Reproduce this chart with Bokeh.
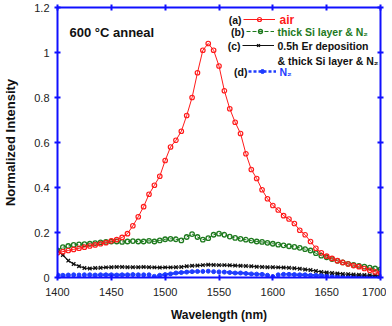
from bokeh.plotting import figure
from bokeh.models import (ColumnDataSource, Range1d, LinearAxis, FixedTicker,
                          CustomJSTickFormatter, Legend, LegendItem, Label)
from bokeh.core.properties import value
from bokeh.embed import file_html
from bokeh.resources import INLINE

wavelength = list(range(1400, 1701, 5))

air = [0.11, 0.115, 0.12, 0.125, 0.13, 0.135, 0.14, 0.145, 0.15, 0.155,
       0.163, 0.168, 0.178, 0.195, 0.23, 0.27, 0.315, 0.37, 0.41, 0.45,
       0.52, 0.58, 0.61, 0.65, 0.72, 0.80, 0.91, 1.01, 1.04, 1.01,
       0.94, 0.83, 0.75, 0.69, 0.64, 0.55, 0.48, 0.44, 0.39, 0.35,
       0.32, 0.30, 0.275, 0.26, 0.24, 0.21, 0.19, 0.16, 0.13, 0.11,
       0.095, 0.085, 0.075, 0.067, 0.06, 0.053, 0.048, 0.04, 0.032, 0.025,
       0.02]

thick_si_n2 = [0.12, 0.135, 0.14, 0.145, 0.147, 0.148, 0.15, 0.153, 0.156, 0.158,
               0.16, 0.16, 0.158, 0.16, 0.162, 0.16, 0.16, 0.163, 0.16, 0.165,
               0.17, 0.172, 0.17, 0.165, 0.18, 0.193, 0.18, 0.168, 0.175, 0.19,
               0.195, 0.19, 0.182, 0.176, 0.172, 0.168, 0.164, 0.16, 0.158, 0.154,
               0.15, 0.146, 0.143, 0.139, 0.136, 0.132, 0.126, 0.12, 0.108, 0.097,
               0.09, 0.082, 0.074, 0.067, 0.061, 0.056, 0.052, 0.048, 0.044, 0.04,
               0.036]

er_thick_si_n2 = [0.12, 0.1, 0.075, 0.06, 0.05, 0.042, 0.04, 0.042, 0.043, 0.045,
                  0.046, 0.047, 0.047, 0.046, 0.046, 0.046, 0.047, 0.046, 0.045, 0.044,
                  0.045, 0.045, 0.046, 0.047, 0.05, 0.052, 0.053, 0.055, 0.057, 0.056,
                  0.055, 0.055, 0.054, 0.053, 0.052, 0.051, 0.05, 0.048, 0.047, 0.046,
                  0.046, 0.045, 0.044, 0.043, 0.041, 0.039, 0.036, 0.033, 0.029, 0.025,
                  0.022, 0.02, 0.018, 0.016, 0.015, 0.013, 0.012, 0.011, 0.01, 0.01,
                  0.01]

n2 = [0.012, 0.01, 0.011, 0.012, 0.011, 0.012, 0.012, 0.011, 0.012, 0.012,
      0.012, 0.011, 0.012, 0.012, 0.013, 0.012, 0.012, 0.012, 0.005, 0.01,
      0.013, 0.016, 0.02, 0.022, 0.024, 0.026, 0.027, 0.027, 0.028, 0.026,
      0.025, 0.024, 0.022, 0.02, 0.02, 0.018, 0.016, 0.015, 0.014, 0.01,
      0.004, 0.012, 0.014, 0.014, 0.013, 0.012, 0.012, 0.01, 0.01, 0.009,
      0.008, 0.007, 0.007, 0.006, 0.006, 0.005, 0.005, 0.005, 0.005, 0.004,
      0.004]

x_tick_values = [1400, 1450, 1500, 1550, 1600, 1650, 1700]
y_tick_values = [0, 0.2, 0.4, 0.6, 0.8, 1.0, 1.2]

src = ColumnDataSource(dict(wl=wavelength, air=air, thick=thick_si_n2, er=er_thick_si_n2, n2=n2))

FONT = "Liberation Sans"
AX = "#1010ff"
RED = "#ff1a1a"
GREEN = "#1e7a1e"
BLACK = "#111111"
BLUE = "#1f3cff"

p = figure(width=386, height=324, x_range=Range1d(1400, 1700), y_range=Range1d(0, 1.2),
           output_backend="svg", toolbar_location=None,
           min_border_left=55, min_border_right=6, min_border_top=7, min_border_bottom=46)
p.outline_line_color = None
p.grid.visible = False
p.background_fill_color = "white"

yfmt = CustomJSTickFormatter(code="return (Math.round(tick*10)/10).toString();")
blank = CustomJSTickFormatter(code="return '';")

def style_axis(ax):
    ax.axis_line_color = AX
    ax.axis_line_width = 2
    ax.major_tick_line_color = AX
    ax.major_tick_line_width = 2
    ax.major_tick_in = 3
    ax.major_tick_out = 3
    ax.minor_tick_line_color = None
    ax.major_label_text_font = FONT
    ax.major_label_text_font_size = "11px"
    ax.major_label_text_color = "#222222"

xa = p.xaxis[0]
xa.ticker = FixedTicker(ticks=x_tick_values)
style_axis(xa)
xa.major_label_standoff = 7
xa.axis_label = "Wavelength (nm)"
xa.axis_label_text_font = FONT
xa.axis_label_text_font_style = "bold"
xa.axis_label_text_font_size = "12px"
xa.axis_label_text_color = "#111111"
xa.axis_label_standoff = 9

ya = p.yaxis[0]
ya.ticker = FixedTicker(ticks=y_tick_values)
ya.formatter = yfmt
style_axis(ya)
ya.major_label_standoff = 5
ya.axis_label = "Normalized Intensity"
ya.axis_label_text_font = FONT
ya.axis_label_text_font_style = "bold"
ya.axis_label_text_font_size = "13px"
ya.axis_label_text_color = "#111111"
ya.axis_label_standoff = 13

top = LinearAxis(ticker=FixedTicker(ticks=x_tick_values), formatter=blank)
style_axis(top)
top.major_label_standoff = 0
p.add_layout(top, "above")
right = LinearAxis(ticker=FixedTicker(ticks=y_tick_values), formatter=blank)
style_axis(right)
right.major_label_standoff = 0
p.add_layout(right, "right")

# series
l_d = p.line("wl", "n2", source=src, color=BLUE, line_width=2.5, line_dash="3 2")
s_d = p.scatter("wl", "n2", source=src, marker="circle", size=4, color=BLUE)
l_c = p.line("wl", "er", source=src, color=BLACK, line_width=1.2)
s_c = p.scatter("wl", "er", source=src, marker="x", size=5, line_color=BLACK, line_width=1.3)
l_b = p.line("wl", "thick", source=src, color=GREEN, line_width=1, line_dash="4 2")
s_b = p.scatter("wl", "thick", source=src, marker="circle", size=4.5, line_color=GREEN,
                fill_color="white", fill_alpha=0, line_width=1.3)
l_a = p.line("wl", "air", source=src, color=RED, line_width=1)
s_a = p.scatter("wl", "air", source=src, marker="circle", size=4.5, line_color=RED,
                fill_color="white", fill_alpha=0, line_width=1.2)

def key(rs, loc, w):
    leg = Legend(items=[LegendItem(label=value(""), renderers=rs)], location=loc,
                 glyph_width=w, glyph_height=10, label_height=10, label_width=0,
                 label_standoff=0, padding=0, margin=0, spacing=0,
                 border_line_color=None, background_fill_alpha=0,
                 label_text_font_size="10px")
    p.add_layout(leg)

key([l_a, s_a], (186, 253), 32)
key([l_b, s_b], (189, 241), 28)
key([l_c, s_c], (185, 227), 32)
key([l_d, s_d], (191, 201), 28)

def lab(x, y, t, color="#111111", size="10.5px", align="left"):
    p.add_layout(Label(x=x, y=y, x_units="screen", y_units="screen", text=t,
                       text_font=FONT, text_font_style="bold", text_font_size=size,
                       text_color=color, text_align=align, text_baseline="middle"))

lab(184, 258, "(a)", align="right")
lab(222, 258, "air", RED, "12px")
lab(187, 246, "(b)", align="right")
lab(220, 246, "thick Si layer & N\u2082", GREEN)
lab(183, 232, "(c)", align="right")
lab(220, 232, "0.5h Er deposition")
lab(220, 217, "& thick Si layer & N\u2082")
lab(190, 206, "(d)", align="right")
lab(222, 206, "N\u2082", BLUE)
lab(12, 245, "600 \u00b0C anneal", size="13px")

open("out.html", "w").write(file_html(p, INLINE))
